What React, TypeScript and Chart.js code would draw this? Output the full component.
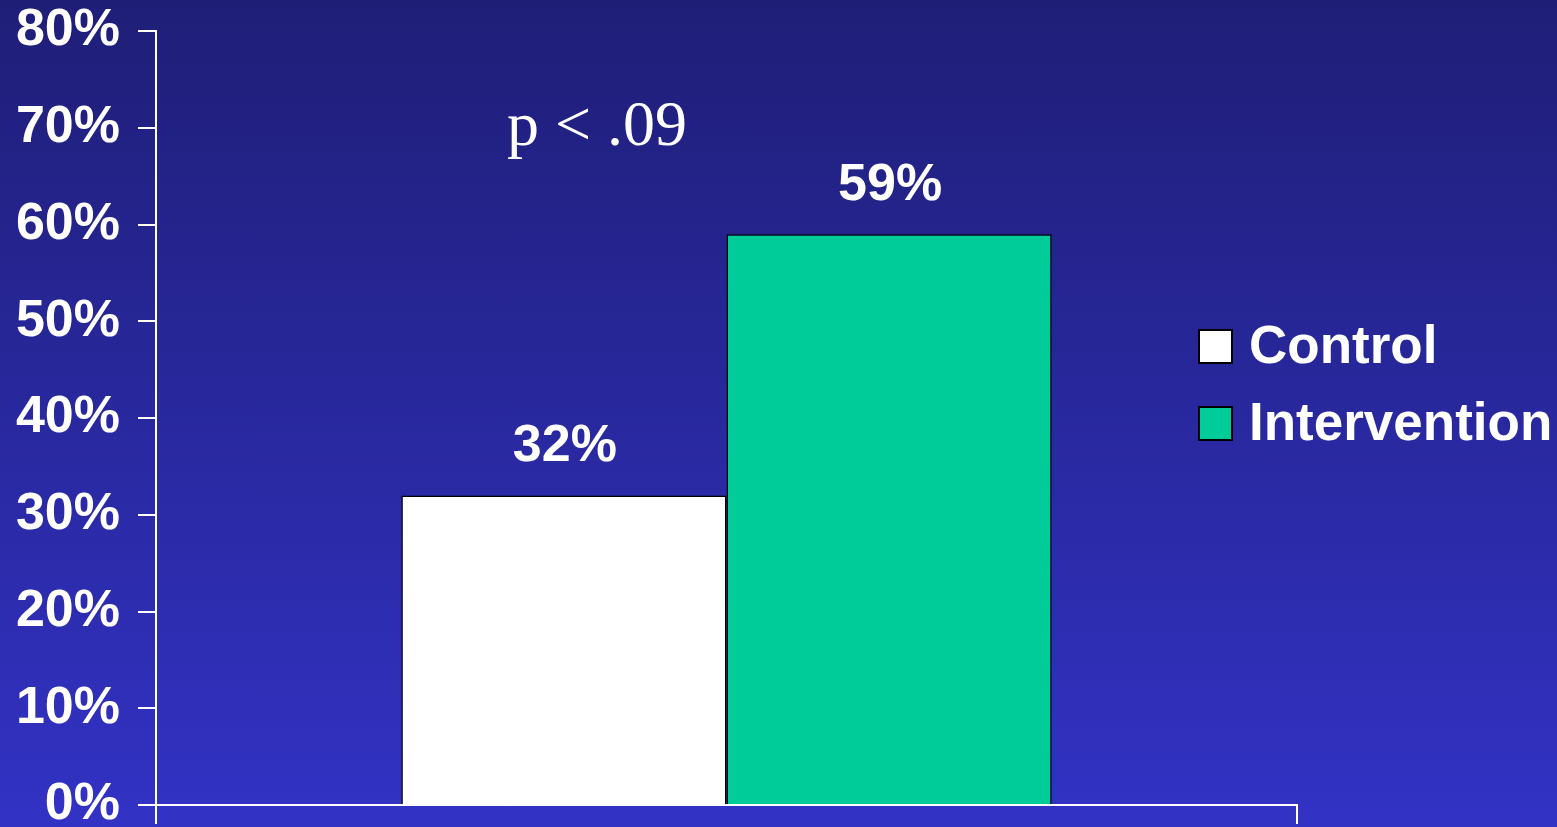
import React, { useEffect, useRef } from "react";
import { Chart, registerables } from "chart.js";

Chart.register(...registerables);

const categories = [""];
const seriesNames = ["Control", "Intervention"];
const controlValues = [32];
const interventionValues = [59];
const seriesColors = ["#ffffff", "#00cc99"];
const yMin = 0;
const yMax = 80;
const yStep = 10;
const annotationText = "p < .09";
const annotationValue = 70;

const SANS = "'Liberation Sans', Arial, Helvetica, sans-serif";
const SERIF = "'Liberation Serif', 'Times New Roman', serif";

const valueLabelPlugin = {
  id: "valueLabels",
  afterDatasetsDraw(chart: any) {
    const ctx = chart.ctx;
    ctx.save();
    ctx.fillStyle = "#ffffff";
    ctx.font = `bold 52px ${SANS}`;
    ctx.textAlign = "center";
    ctx.textBaseline = "middle";
    chart.data.datasets.forEach((ds: any, i: number) => {
      const meta = chart.getDatasetMeta(i);
      meta.data.forEach((el: any, j: number) => {
        ctx.fillText(`${ds.data[j]}%`, el.x + 1, el.y - 49);
      });
    });
    ctx.restore();
  },
};

const annotationPlugin = {
  id: "pAnnotation",
  afterDraw(chart: any) {
    const ctx = chart.ctx;
    const y = chart.scales.y.getPixelForValue(annotationValue);
    ctx.save();
    ctx.fillStyle = "#ffffff";
    ctx.font = `64px ${SERIF}`;
    ctx.textAlign = "center";
    ctx.textBaseline = "middle";
    ctx.fillText(annotationText, 597, y);
    ctx.restore();
  },
};

const legendPlugin = {
  id: "customLegend",
  afterDraw(chart: any) {
    const ctx = chart.ctx;
    ctx.save();
    chart.data.datasets.forEach((ds: any, i: number) => {
      const cy = 346 + i * 77;
      ctx.fillStyle = ds.backgroundColor;
      ctx.fillRect(1199, cy - 16, 33, 33);
      ctx.strokeStyle = "#000000";
      ctx.lineWidth = 2;
      ctx.strokeRect(1199, cy - 16, 33, 33);
      ctx.fillStyle = "#ffffff";
      ctx.font = `bold 53px ${SANS}`;
      ctx.textAlign = "left";
      ctx.textBaseline = "middle";
      ctx.fillText(ds.label, 1249, cy + 2);
    });
    ctx.restore();
  },
};

export default function App() {
  const canvasRef = useRef<HTMLCanvasElement | null>(null);

  useEffect(() => {
    if (!canvasRef.current) return;
    const chart = new Chart(canvasRef.current, {
      type: "bar",
      data: {
        labels: categories,
        datasets: [
          {
            label: seriesNames[0],
            data: controlValues,
            backgroundColor: seriesColors[0],
            borderColor: "#000000",
            borderWidth: 1.5,
            categoryPercentage: 0.57,
            barPercentage: 1.0,
          },
          {
            label: seriesNames[1],
            data: interventionValues,
            backgroundColor: seriesColors[1],
            borderColor: "#000000",
            borderWidth: 1.5,
            categoryPercentage: 0.57,
            barPercentage: 1.0,
          },
        ],
      },
      options: {
        animation: false,
        responsive: true,
        maintainAspectRatio: false,
        layout: { padding: { top: 31, right: 260, left: 0, bottom: 0 } },
        plugins: {
          legend: { display: false },
          tooltip: { enabled: false },
        },
        scales: {
          x: {
            offset: true,
            grid: {
              offset: true,
              drawOnChartArea: false,
              drawTicks: true,
              tickLength: 19,
              color: "#ffffff",
              lineWidth: 2,
            },
            border: { color: "#ffffff", width: 2 },
            ticks: { display: true, color: "#ffffff" },
            afterFit(scale: any) {
              scale.height = 22;
              scale.paddingLeft = 0;
              scale.paddingRight = 0;
            },
          },
          y: {
            min: yMin,
            max: yMax,
            grid: {
              drawOnChartArea: false,
              drawTicks: true,
              tickLength: 18,
              color: "#ffffff",
              lineWidth: 2,
            },
            border: { color: "#ffffff", width: 2 },
            ticks: {
              stepSize: yStep,
              color: "#ffffff",
              padding: 18,
              font: { family: SANS, size: 52, weight: "bold" },
              callback: (v: any) => `${v}%`,
            },
            afterFit(scale: any) {
              scale.width = 156;
              scale.paddingTop = 0;
              scale.paddingBottom = 0;
            },
          },
        },
      },
      plugins: [valueLabelPlugin, annotationPlugin, legendPlugin],
    });
    return () => chart.destroy();
  }, []);

  return (
    <div
      style={{
        position: "fixed",
        left: 0,
        top: 0,
        width: "1557px",
        height: "827px",
        background: "linear-gradient(to bottom, #1f1e77 0%, #3232c5 100%)",
        overflow: "hidden",
      }}
    >
      <canvas ref={canvasRef} />
    </div>
  );
}
